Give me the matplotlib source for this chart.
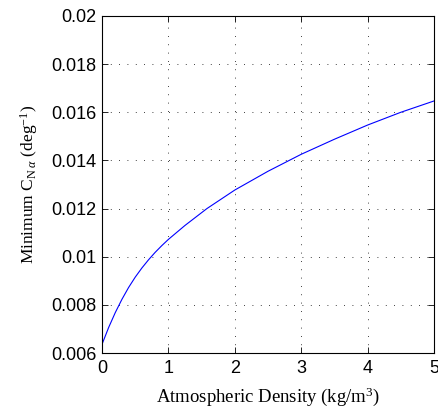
import matplotlib
matplotlib.use("Agg")
import matplotlib.pyplot as plt

# densidade atmosférica (kg/m^3) e C_N_alpha mínimo
densidade = [0.0, 0.1, 0.2, 0.3, 0.4, 0.5, 0.6, 0.7, 0.8, 0.9, 1.0, 1.25, 1.58,
             2.0, 2.5, 3.0, 3.5, 4.0, 4.5, 5.0]
cn_alpha_min = [0.00636, 0.00706, 0.00768, 0.00823, 0.00872, 0.00915, 0.00953,
                0.00987, 0.01018, 0.01046, 0.01072, 0.0113, 0.0120, 0.01277,
                0.01355, 0.014255, 0.01488, 0.01547, 0.0160, 0.01647]

xticks = [0, 1, 2, 3, 4, 5]
yticks = [0.006, 0.008, 0.01, 0.012, 0.014, 0.016, 0.018, 0.02]
ytick_labels = ["0.006", "0.008", "0.01", "0.012", "0.014", "0.016", "0.018", "0.02"]

plt.rcParams["mathtext.fontset"] = "custom"
plt.rcParams["mathtext.rm"] = "Liberation Serif"
plt.rcParams["mathtext.it"] = "Liberation Serif:italic"

fig = plt.figure(figsize=(4.38, 4.08), dpi=100)
ax = fig.add_axes([0.2329, 0.1348, 0.758, 0.826])

ax.plot(densidade, cn_alpha_min, color="#0000ff", linewidth=0.8)

ax.set_xlim(0, 5)
ax.set_ylim(0.006, 0.02)
ax.set_xticks(xticks)
ax.set_yticks(yticks)
ax.set_xticklabels([str(t) for t in xticks], family="Liberation Sans", fontsize=13)
ax.set_yticklabels(ytick_labels, family="Liberation Sans", fontsize=13)

ax.tick_params(axis="both", direction="in", top=True, right=True, length=4, width=0.6)
ax.tick_params(axis="x", pad=5)
ax.tick_params(axis="y", pad=4)
ax.grid(True, color="black", linestyle=(0, (1, 9)), linewidth=0.6)
for s in ax.spines.values():
    s.set_linewidth(0.8)

ax.set_xlabel(r"Atmospheric Density (kg/m$^3$)", family="Liberation Serif",
              fontsize=13.5, labelpad=6)
ax.set_ylabel(r"Minimum C$_{\mathrm{N}\;\alpha}$ (deg$^{-1}$)", family="Liberation Serif",
              fontsize=12.5, labelpad=8)

fig.savefig("out.png", dpi=100)
